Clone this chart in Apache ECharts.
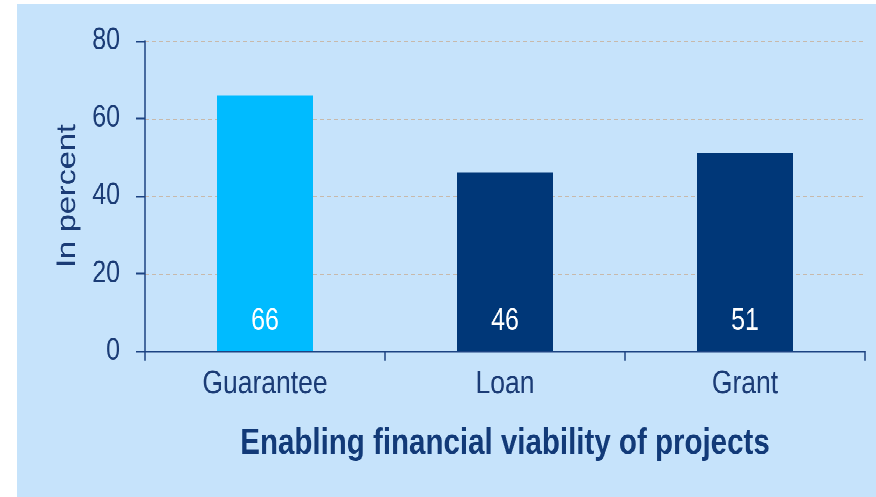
<!DOCTYPE html>
<html>
<head>
<meta charset="utf-8">
<script src="https://cdn.jsdelivr.net/npm/echarts@6/dist/echarts.min.js"></script>
<style>
  html, body { margin: 0; padding: 0; background: #ffffff; width: 876px; height: 497px; overflow: hidden; }
  #chart {
    position: absolute; left: 17px; top: 4px; width: 859px; height: 404px;
    transform: scaleY(1.2203); transform-origin: 0 0;
    background: #c6e3fb;
  }
</style>
</head>
<body>
<div id="chart"></div>
<script>
const categories = ['Guarantee', 'Loan', 'Grant'];
const values = [66, 46, 51];
const barColors = ['#00bbff', '#003778', '#003778'];
const yTicks = [0, 20, 40, 60, 80];
const yAxisTitle = 'In percent';
const xAxisTitle = 'Enabling financial viability of projects';

const navy = '#1c4382';
const textColor = '#1b3c76';
const font = 'Arial, "Liberation Sans", sans-serif';

const chart = echarts.init(document.getElementById('chart'), null, { devicePixelRatio: 2 });
chart.setOption({
  backgroundColor: 'transparent',
  animation: false,
  grid: { left: 128, right: 11, top: 30.3, bottom: 119.6, containLabel: false },
  xAxis: {
    type: 'category',
    data: categories,
    name: xAxisTitle,
    nameLocation: 'middle',
    nameGap: 61,
    nameTextStyle: { color: '#123a78', fontFamily: font, fontSize: 29.5, fontWeight: 'bold' },
    axisLine: { lineStyle: { color: navy, width: 1.5 } },
    axisTick: { show: true, alignWithLabel: false, length: 8, lineStyle: { color: navy, width: 1.5 } },
    axisLabel: { color: textColor, fontFamily: font, fontSize: 26.5, margin: 14 },
    splitLine: { show: false }
  },
  yAxis: {
    type: 'value',
    min: yTicks[0],
    max: yTicks[yTicks.length - 1],
    interval: yTicks[1] - yTicks[0],
    name: yAxisTitle,
    nameLocation: 'middle',
    nameRotate: 90,
    nameGap: 62,
    nameTextStyle: { color: textColor, fontFamily: font, fontSize: 26.5 },
    axisLine: { show: true, lineStyle: { color: navy, width: 1.5 } },
    axisTick: { show: true, length: 9, lineStyle: { color: navy, width: 1.5 } },
    axisLabel: { color: textColor, fontFamily: font, fontSize: 25, margin: 25 },
    splitLine: { show: true, lineStyle: { color: '#c8b9aa', width: 1, type: [4, 3] } }
  },
  series: [{
    type: 'bar',
    data: values.map((v, i) => ({ value: v, itemStyle: { color: barColors[i] } })),
    barWidth: '40%',
    label: {
      show: true,
      position: 'insideBottom',
      distance: 12,
      color: '#ffffff',
      fontFamily: font,
      fontSize: 25
    }
  }]
});
</script>
</body>
</html>
